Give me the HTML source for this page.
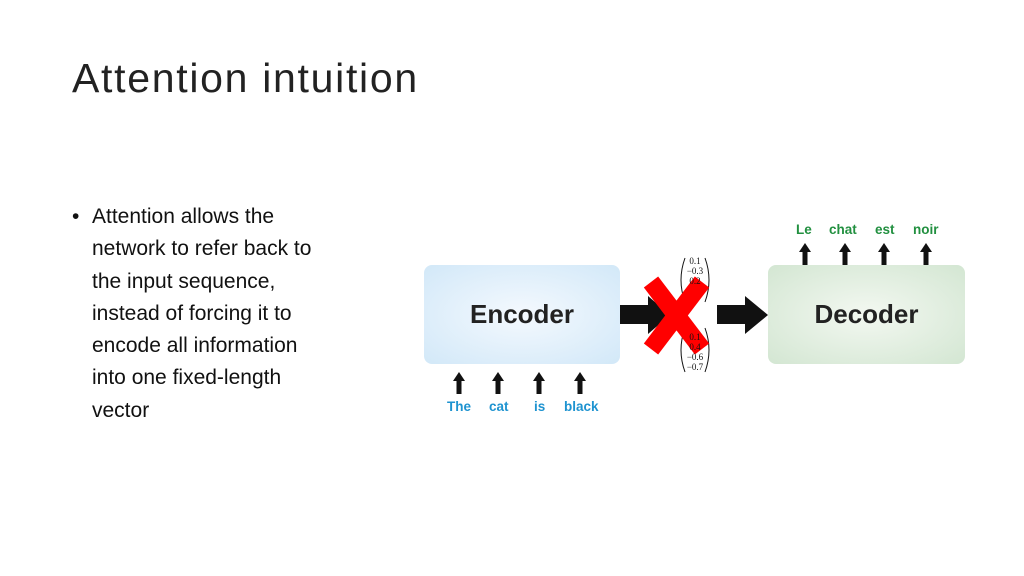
<!DOCTYPE html>
<html><head><style>
body{margin:0;width:1024px;height:576px;background:#fff;position:relative;overflow:hidden;font-family:"Liberation Sans",sans-serif}
.t{position:absolute;left:72px;top:55px;font-size:41px;color:#222;letter-spacing:1.7px}
.b{position:absolute;left:72px;top:201px;font-size:21px;line-height:32.3px;color:#111;width:340px;white-space:nowrap}
.b .d{position:absolute;left:0}
.b p{margin:0 0 0 20px}
.box{position:absolute;border-radius:8px;font-weight:bold;font-size:26px;color:#222;display:flex;align-items:center;justify-content:center}
.w{position:absolute;font-weight:bold;font-size:13.5px}
.v{position:absolute;font-family:"Liberation Serif",serif;font-size:9px;line-height:10px;text-align:center;width:30px;color:#111}
</style></head><body>
<div class="t">Attention intuition</div>
<div class="b"><span class="d">•</span><p>Attention allows the<br>network to refer back to<br>the input sequence,<br>instead of forcing it to<br>encode all information<br>into one fixed-length<br>vector</p></div>
<div class="box" style="left:424px;top:265px;width:196px;height:99px;background:radial-gradient(ellipse at center,#f4f9fe,#d2e8f8)">Encoder</div>
<div class="box" style="left:768px;top:265px;width:197px;height:99px;background:radial-gradient(ellipse at center,#f3f8f1,#d3e6d2)">Decoder</div>
<svg width="1024" height="576" style="position:absolute;left:0;top:0">
<defs><g id="ua"><rect x="-2.5" y="8" width="5" height="14" fill="#111"/><polygon points="-6,9 6,9 0,0" fill="#111"/></g></defs>
<use href="#ua" x="459" y="372"/><use href="#ua" x="498" y="372"/><use href="#ua" x="539" y="372"/><use href="#ua" x="580" y="372"/>
<use href="#ua" x="805" y="243"/><use href="#ua" x="845" y="243"/><use href="#ua" x="884" y="243"/><use href="#ua" x="926" y="243"/>
<rect x="620" y="305" width="30" height="19" fill="#111"/><polygon points="648,296 648,334 670,315" fill="#111"/>
<rect x="717" y="305" width="30" height="19" fill="#111"/><polygon points="745,296 745,334 768,315" fill="#111"/>
<path d="M685 258 Q677 280 685 302 M705 258 Q713 280 705 302 M685 328 Q677 350 685 372 M705 328 Q713 350 705 372" stroke="#111" fill="none" stroke-width="1"/>
<g stroke="#f00" stroke-width="18"><line x1="651" y1="282" x2="702" y2="349"/><line x1="702" y1="282" x2="651" y2="349"/></g>
</svg>
<div class="v" style="left:680px;top:256px">0.1<br>−0.3<br>0.2</div>
<div class="v" style="left:680px;top:332px">0.1<br>0.4<br>−0.6<br>−0.7</div>
<div class="w" style="left:447px;top:399px;color:#1e93d0">The</div>
<div class="w" style="left:489px;top:399px;color:#1e93d0">cat</div>
<div class="w" style="left:534px;top:399px;color:#1e93d0">is</div>
<div class="w" style="left:564px;top:399px;color:#1e93d0">black</div>
<div class="w" style="left:796px;top:222px;color:#229040">Le</div>
<div class="w" style="left:829px;top:222px;color:#229040">chat</div>
<div class="w" style="left:875px;top:222px;color:#229040">est</div>
<div class="w" style="left:913px;top:222px;color:#229040">noir</div>
</body></html>
